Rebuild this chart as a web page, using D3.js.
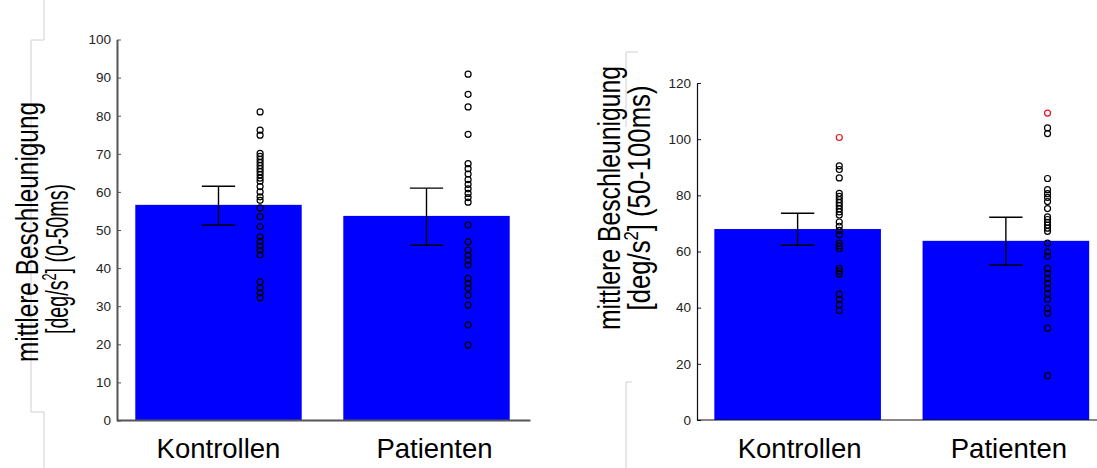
<!DOCTYPE html>
<html>
<head>
<meta charset="utf-8">
<script src="https://cdn.jsdelivr.net/npm/d3@7/dist/d3.min.js"></script>
<style>
  body { margin: 0; background: #fff; }
  svg { display: block; font-family: "Liberation Sans", Arial, sans-serif; }
</style>
</head>
<body>
<div id="chart"></div>
<script>
// groups
var categories = ["Kontrollen", "Patienten"];

// panel 1: 0-50ms
var meanEarly = [56.6, 53.7];
var lowEarly = [51.3, 46.0];
var highEarly = [61.5, 61.0];
var ctrlEarly = [81, 76.2, 74.9, 70.1, 69.3, 68.5, 67.7, 66.9, 66.1, 65.3, 64.5, 63.6, 62.8, 61.4, 60.0, 58.7,
  57.8, 55.8, 53.5, 50.9, 48.2, 47.0, 45.8, 44.7, 43.5, 36.4, 34.8, 33.5, 32.2];
var patEarly = [90.9, 85.6, 82.3, 75.1, 67.4, 66.1, 64.7, 63.2, 62.0, 60.8, 59.6, 58.5, 57.3, 51.3, 46.9,
  44.7, 43.4, 42.1, 40.8, 37.3, 36.0, 34.7, 32.9, 30.3, 25.1, 19.8];
var ticksEarly = [0, 10, 20, 30, 40, 50, 60, 70, 80, 90, 100];

// panel 2: 50-100ms
var meanLate = [68.0, 63.8];
var lowLate = [62.2, 55.2];
var highLate = [73.6, 72.2];
var ctrlLate = [90.5, 89.2, 86.2, 80.7, 79.6, 78.5, 77.4, 76.3, 75.2, 74.1, 73.0, 70.5, 69.0, 67.5, 66.0,
  63.0, 62.0, 61.0, 54.0, 53.0, 52.0, 44.8, 43.0, 41.0, 39.0];
var patLate = [104, 102, 86, 82, 80.6, 79.3, 77.8, 75.3, 72.3, 71.4, 70.4, 69.4, 68.3, 67.2, 63.0, 59.9,
  58.3, 54.0, 52.2, 50.4, 48.6, 46.8, 44.9, 43.0, 39.8, 38.0, 32.7, 15.8];
var outlierLate = [100.6, 109.3];
var ticksLate = [0, 20, 40, 60, 80, 100, 120];

var svg = d3.select("#chart").append("svg").attr("width", 1097).attr("height", 468);

// faint slide frame lines
svg.append("path").attr("d", "M44,0V40H31V412H44V468")
  .attr("fill", "none").attr("stroke", "#d0d0d0").attr("stroke-width", 1);
svg.append("path").attr("d", "M638,52H626V127")
  .attr("fill", "none").attr("stroke", "#d0d0d0").attr("stroke-width", 1);
svg.append("path").attr("d", "M626,468V382H632")
  .attr("fill", "none").attr("stroke", "#d0d0d0").attr("stroke-width", 1);

function drawPanel(p) {
  var x = d3.scaleLinear().domain([0.5, 2.5]).range([p.x0, p.x1]);
  var y = d3.scaleLinear().domain([0, p.ymax]).range([p.yBottom, p.yTop]);
  var g = svg.append("g");

  // bars
  g.selectAll("rect.bar").data(p.means).enter().append("rect")
    .attr("class", "bar")
    .attr("x", function(d, i) { return x(i + 1 - 0.4); })
    .attr("width", function(d, i) { return x(i + 1 + 0.4) - x(i + 1 - 0.4); })
    .attr("y", function(d) { return y(d); })
    .attr("height", function(d) { return y(0) - y(d); })
    .attr("fill", "#0000ff");

  // error bars
  var cap = 0.08;
  p.means.forEach(function(m, i) {
    var cx = x(i + 1);
    g.append("line").attr("x1", cx).attr("x2", cx).attr("y1", y(p.low[i])).attr("y2", y(p.high[i]))
      .attr("stroke", "#000").attr("stroke-width", 1.4);
    [p.low[i], p.high[i]].forEach(function(v) {
      g.append("line").attr("x1", x(i + 1 - cap)).attr("x2", x(i + 1 + cap)).attr("y1", y(v)).attr("y2", y(v))
        .attr("stroke", "#000").attr("stroke-width", 1.4);
    });
  });

  // individual values
  p.points.forEach(function(arr, i) {
    g.selectAll(null).data(arr).enter().append("circle")
      .attr("cx", x(i + 1.2))
      .attr("cy", function(d) { return y(d); })
      .attr("r", 3)
      .attr("fill", "none")
      .attr("stroke", "#000")
      .attr("stroke-width", 1.2);
  });
  if (p.outliers) {
    g.selectAll(null).data(p.outliers).enter().append("circle")
      .attr("cx", function(d, i) { return x(i + 1.2); })
      .attr("cy", function(d) { return y(d); })
      .attr("r", 3)
      .attr("fill", "none")
      .attr("stroke", "#e8141b")
      .attr("stroke-width", 1.2);
  }

  // axes
  var yAxis = d3.axisLeft(y).tickValues(p.ticks).tickSizeInner(-4).tickSizeOuter(0).tickPadding(6);
  var ya = g.append("g").attr("transform", "translate(" + p.axisX + ",0)").call(yAxis);
  ya.select(".domain").attr("stroke", p.axisColor).attr("stroke-width", p.axisWidth);
  ya.selectAll(".tick line").attr("stroke", p.axisColor);
  ya.selectAll(".tick text").attr("font-size", "13.5px").attr("fill", "#222")
    .attr("font-family", "Liberation Sans, Arial, sans-serif");
  g.append("line").attr("x1", p.axisX).attr("x2", p.x1).attr("y1", y(0)).attr("y2", y(0))
    .attr("stroke", p.axisColor).attr("stroke-width", p.axisWidth);

  // category labels
  g.selectAll("text.cat").data(categories).enter().append("text")
    .attr("class", "cat")
    .attr("x", function(d, i) { return x(i + 1) + p.catShift[i]; })
    .attr("y", 458)
    .attr("text-anchor", "middle")
    .attr("font-size", "27.5px")
    .attr("fill", "#000")
    .text(function(d) { return d; });

  // y label, two lines (squeezed like the slide)
  g.append("text")
    .attr("transform", "translate(" + p.labelX + "," + p.labelY1 + ") rotate(-90)")
    .attr("text-anchor", "middle").attr("font-size", "31px").attr("fill", "#000")
    .attr("textLength", p.len1).attr("lengthAdjust", "spacingAndGlyphs")
    .text("mittlere Beschleunigung");
  var l2 = g.append("text")
    .attr("transform", "translate(" + (p.labelX + 30) + "," + p.labelY2 + ") rotate(-90)")
    .attr("text-anchor", "middle").attr("font-size", "31px").attr("fill", "#000")
    .attr("textLength", p.len2).attr("lengthAdjust", "spacingAndGlyphs");
  l2.append("tspan").text("[deg/s");
  l2.append("tspan").attr("dy", -12).attr("font-size", "20px").text("2");
  l2.append("tspan").attr("dy", 12).text("] " + p.range);
}

drawPanel({
  x0: 114.5, x1: 530.5, axisX: 117, yTop: 39.5, yBottom: 420.5, ymax: 100,
  means: meanEarly, low: lowEarly, high: highEarly, points: [ctrlEarly, patEarly],
  ticks: ticksEarly, axisColor: "#555", axisWidth: 2, catShift: [0, 8],
  labelX: 38, labelY1: 232, labelY2: 259, len1: 260, len2: 150, range: "(0-50ms)"
});

drawPanel({
  x0: 693.5, x1: 1110, axisX: 697, yTop: 83, yBottom: 420, ymax: 120,
  means: meanLate, low: lowLate, high: highLate, points: [ctrlLate, patLate], outliers: outlierLate,
  ticks: ticksLate, axisColor: "#111", axisWidth: 1.2, catShift: [2, 3],
  labelX: 620, labelY1: 198, labelY2: 198, len1: 264, len2: 225, range: "(50-100ms)"
});
</script>
</body>
</html>
